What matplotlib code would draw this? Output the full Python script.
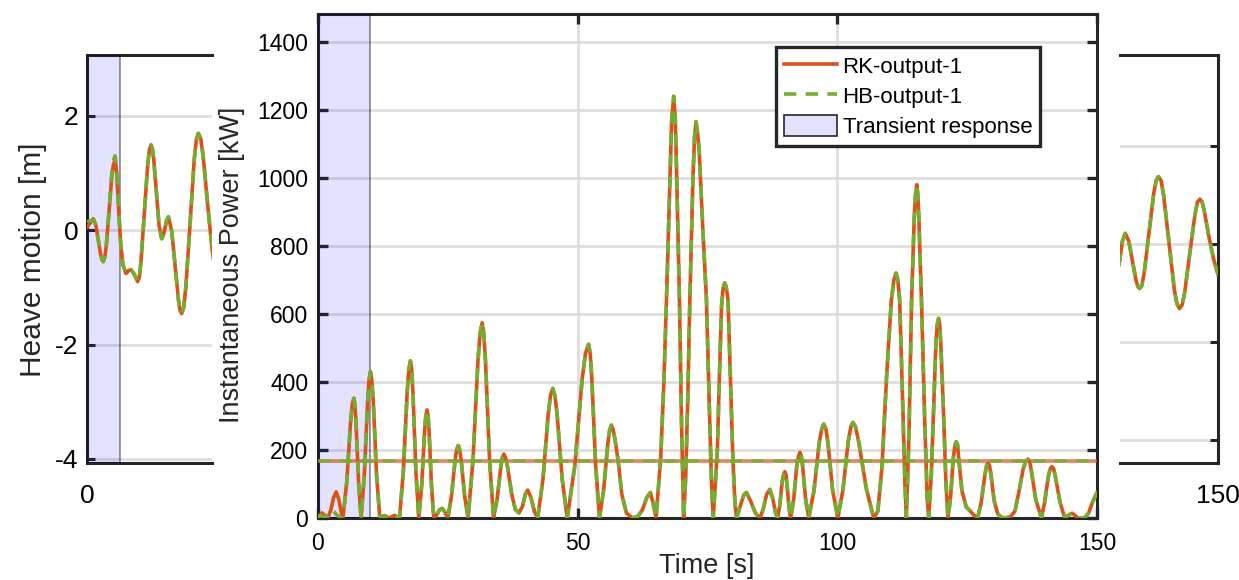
import matplotlib
matplotlib.use('Agg')
import matplotlib.pyplot as plt
from matplotlib.patches import Patch
from matplotlib.lines import Line2D

plt.rcParams['font.family'] = ['Liberation Sans', 'DejaVu Sans']
plt.rcParams['axes.unicode_minus'] = False

# ---------------- data ----------------
# Instantaneous power [kW]: (time [s], power [kW]); first seconds differ
rk_power_head = [(0.0, 4), (0.8, 15), (1.4, 6), (1.9, 0), (2.5, 25), (3.0, 60),
                 (3.5, 77), (4.0, 55), (4.5, 15), (4.8, 0)]
hb_power_head = [(0.0, 0), (0.6, 8), (1.3, 2), (2.0, 10), (2.8, 25), (3.4, 12),
                 (4.1, 3), (4.8, 0)]
# common part (both solvers coincide)
power_tail = [
    (5.54, 106), (6.27, 282), (6.6, 335), (6.9, 352), (7.1, 335), (7.32, 282), (7.81, 106), (8.3, 0),
    (8.93, 129), (9.56, 344), (9.83, 406), (10.1, 430), (10.37, 406), (10.64, 344), (11.27, 129), (11.9, 0),
    (12.4, 5), (12.9, 7), (13.5, 0), (14.2, 3), (14.7, 8), (15.2, 4), (15.7, 0),
    (16.44, 139), (17.17, 370), (17.49, 437), (17.8, 462), (18.04, 437), (18.28, 370), (18.84, 139), (19.4, 0),
    (19.96, 95), (20.52, 254), (20.76, 300), (21.0, 318), (21.2, 300), (21.39, 254), (21.85, 95), (22.3, 0),
    (22.9, 10), (23.4, 24), (23.9, 28), (24.4, 18), (25.0, 0),
    (25.7, 64), (26.4, 170), (26.7, 201), (27.0, 213), (27.29, 201), (27.57, 170), (28.24, 64), (28.9, 0),
    (29.85, 172), (30.79, 459), (31.2, 542), (31.6, 574), (31.93, 542), (32.26, 459), (33.03, 172), (33.8, 0),
    (34.5, 56), (35.2, 150), (35.5, 178), (35.8, 188), (36.1, 178), (36.5, 150), (37.3, 70), (38.0, 25), (38.7, 15),
    (39.4, 35), (39.9, 70), (40.4, 82), (41.0, 60), (41.7, 18), (42.3, 0),
    (43.32, 114), (44.33, 305), (44.77, 360), (45.2, 381), (45.62, 360), (46.04, 305), (47.02, 114), (48.0, 0),
    (49.44, 153), (50.87, 409), (51.49, 483), (52.1, 511), (52.42, 483), (52.73, 409), (53.47, 153), (54.2, 0),
    (55.0, 82), (55.8, 218), (56.15, 258), (56.5, 273), (56.85, 258), (57.2, 230), (57.8, 168), (58.5, 70),
    (59.4, 14), (60.6, 0), (61.6, 5),
    (62.5, 25), (63.3, 60), (64.0, 75), (64.5, 45), (65.1, 0),
    (66.0, 180), (66.6, 400), (67.1, 641), (67.7, 960), (68.1, 1170), (68.5, 1240), (68.8, 1170), (69.0, 1050),
    (69.6, 641), (70.0, 280), (70.4, 0),
    (70.8, 120), (71.2, 350), (71.6, 641), (72.2, 1000), (72.5, 1120), (72.8, 1165), (73.1, 1130), (73.4, 1080),
    (74.1, 850), (74.8, 641), (75.4, 300), (75.8, 90), (76.1, 0),
    (76.9, 200), (77.3, 420), (77.7, 620), (78.0, 675), (78.3, 691), (78.6, 680), (78.95, 641), (79.4, 420),
    (79.9, 168), (80.3, 40), (80.6, 0),
    (81.3, 35), (82.0, 68), (82.5, 75), (83.3, 50), (84.2, 15), (85.1, 0),
    (85.7, 25), (86.4, 70), (87.0, 84), (87.6, 55), (88.1, 15), (88.5, 0),
    (88.9, 35), (89.4, 110), (89.7, 130), (89.9, 136), (90.1, 128), (90.3, 100), (90.7, 30), (91.0, 0),
    (91.6, 55), (92.2, 155), (92.55, 183), (92.8, 193), (93.05, 183), (93.3, 155), (93.9, 55), (94.5, 0),
    (95.5, 80), (96.5, 220), (97.0, 262), (97.4, 276), (97.8, 262), (98.2, 220), (99.1, 80), (100.1, 0),
    (101.1, 85), (102.1, 225), (102.6, 268), (103.0, 281), (103.5, 268), (104.1, 225), (105.6, 85), (107.0, 0),
    (107.8, 20), (108.6, 150), (109.5, 420), (110.4, 641), (110.9, 700), (111.3, 720), (111.65, 700),
    (112.0, 641), (112.6, 330), (113.0, 110), (113.3, 0),
    (113.8, 250), (114.3, 641), (114.8, 880), (115.05, 950), (115.3, 980), (115.5, 950), (115.7, 880),
    (116.2, 641), (116.8, 300), (117.3, 60), (117.6, 0),
    (118.1, 130), (118.6, 350), (119.0, 520), (119.25, 570), (119.5, 587), (119.7, 570), (119.9, 520),
    (120.4, 330), (120.9, 110), (121.3, 0),
    (121.8, 60), (122.3, 170), (122.65, 215), (122.9, 224), (123.15, 215), (123.4, 170), (124.0, 80),
    (124.8, 33), (125.6, 20), (126.3, 8), (127.0, 0),
    (127.7, 45), (128.4, 125), (128.75, 155), (129.0, 161), (129.3, 155), (129.6, 125), (130.2, 50),
    (130.9, 12), (131.6, 2), (132.2, 0),
    (133.3, 3), (134.2, 20), (135.0, 80), (135.8, 145), (136.3, 167), (136.7, 173), (137.0, 167),
    (137.3, 145), (138.2, 55), (139.3, 0),
    (139.9, 45), (140.6, 120), (141.0, 145), (141.3, 151), (141.65, 145), (142.0, 120), (142.9, 45), (143.8, 0),
    (144.5, 8), (145.2, 14), (145.7, 8), (146.3, 0), (147.6, 0), (148.4, 15), (149.1, 45), (150.0, 75),
]
mean_power = 168          # kW, mean power level (both solvers)
transient_end_power = 10  # s

# Heave motion [m], visible left part
heave_head_t = [0.0, 0.84, 1.17, 1.50, 1.83, 2.0, 2.16, 2.35, 2.55, 2.94,
                3.32, 3.52, 3.71, 3.83, 3.95, 4.2]
heave_head_rk = [0.05, 0.20, 0.09, -0.175, -0.44, -0.52, -0.55, -0.48, -0.29, 0.35,
                 0.99, 1.15, 1.22, 1.14, 0.95, 0.35]
heave_head_hb = [0.15, 0.18, 0.08, -0.175, -0.44, -0.52, -0.55, -0.48, -0.29, 0.37,
                 1.03, 1.22, 1.30, 1.2, 1.0, 0.38]
heave_tail_t = [4.45, 4.75, 5.17, 5.5, 5.84, 6.3, 6.72, 6.95, 7.16, 7.6,
                8.05, 8.27, 8.49, 8.66, 8.84, 9.2, 9.55, 9.9, 10.12, 10.35,
                10.57, 10.8, 11.24, 11.68, 12.12, 12.34, 12.56, 12.83, 13.11, 13.67,
                14.22, 14.5, 14.77, 15.08, 15.4, 16.0, 16.6, 17.0]
heave_tail = [-0.2, -0.6, -0.76, -0.71, -0.69, -0.78, -0.90, -0.82, -0.55, 0.295,
              1.14, 1.40, 1.49, 1.43, 1.25, 0.67, 0.09, -0.15, -0.09, 0.04,
              0.17, 0.23, -0.02, -0.615, -1.21, -1.40, -1.46, -1.35, -1.0, 0.115,
              1.23, 1.58, 1.69, 1.6, 1.3, 0.45, -0.35, -0.7]
# Heave motion, visible right part
heave_right_t = [136.8, 137.0, 137.3, 137.7, 138.18, 138.65, 139.13, 139.37, 139.6, 139.9,
                 140.22, 140.85, 141.48, 141.8, 142.1, 142.45, 142.8, 143.5, 144.2, 144.55,
                 144.9, 145.25, 145.58, 146.25, 146.93, 147.27, 147.6, 147.9, 148.2, 148.8,
                 149.4, 150.0]
heave_right = [-0.45, -0.30, 0.05, 0.22, 0.055, -0.345, -0.745, -0.87, -0.91, -0.85,
               -0.575, 0.235, 1.045, 1.3, 1.38, 1.3, 0.985, 0.03, -0.925, -1.22,
               -1.32, -1.24, -0.99, -0.2, 0.59, 0.86, 0.92, 0.86, 0.66, 0.15,
               -0.3, -0.62]
transient_end_heave = 4.4

heave_yticks = [-4, -2, 0, 2]
power_yticks = [0, 200, 400, 600, 800, 1000, 1200, 1400]
power_xticks = [0, 50, 100, 150]
legend_labels = ['RK-output-1', 'HB-output-1', 'Transient response']

# ---------------- styling ----------------
W, H = 1239, 580
C_RK = '#D95319'
C_HB = '#77AC30'
SHADE = (0.0, 0.0, 1.0, 0.11)
SPINE = '#262626'
GRID = '#dedede'
LW = 2.6
DASH = (3.4, 2.6)

fig = plt.figure(figsize=(W / 100, H / 100), dpi=100)


def fr(x0, y0, x1, y1):
    return [x0 / W, 1 - y1 / H, (x1 - x0) / W, (y1 - y0) / H]


def style_spines(ax, show):
    for k, s in ax.spines.items():
        s.set_visible(k in show)
        s.set_linewidth(2.2)
        s.set_color(SPINE)


# ---- heave, left part ----
axL = fig.add_axes(fr(87, 55, 212, 463))
axL.set_xlim(0, 125 / 7.54)
axL.set_ylim(-4.07, 3.06)
axL.plot(heave_head_t + heave_tail_t, heave_head_rk + heave_tail, color=C_RK, lw=LW, zorder=3)
axL.plot(heave_head_t + heave_tail_t, heave_head_hb + heave_tail, color=C_HB, lw=LW,
         dashes=DASH, zorder=4)
axL.axvspan(0, transient_end_heave, facecolor=SHADE, edgecolor=(0, 0, 0, 0.45),
            lw=1.2, zorder=2.6)
axL.set_yticks(heave_yticks)
axL.set_xticks([0])
axL.grid(axis='y', color=GRID, lw=2)
axL.tick_params(axis='y', direction='in', length=6, width=2.2, labelsize=19,
                pad=6, color=SPINE, left=True, right=False)
axL.tick_params(axis='x', length=0, labelsize=19, pad=15)
style_spines(axL, ['left', 'top', 'bottom'])
axL.set_axisbelow(True)

# ---- heave, right part ----
axR = fig.add_axes(fr(1120, 55, 1218, 463))
axR.set_xlim(137.0, 150)
axR.set_ylim(-4.48, 3.87)
axR.plot(heave_right_t, heave_right, color=C_RK, lw=LW, zorder=3)
axR.plot(heave_right_t, heave_right, color=C_HB, lw=LW, dashes=DASH, zorder=4)
axR.set_yticks(heave_yticks)
axR.set_xticks([150])
axR.grid(axis='y', color=GRID, lw=2)
axR.tick_params(axis='y', direction='in', length=6, width=2.2, labelleft=False,
                left=False, right=True, color=SPINE)
axR.tick_params(axis='x', length=0, labelsize=19, pad=15)
style_spines(axR, ['right', 'top', 'bottom'])
axR.set_axisbelow(True)

fig.text(33 / W, 1 - 260 / H, 'Heave motion [m]', rotation=90, ha='center',
         va='center', fontsize=21.5, color='#262626')

# ---- power inset ----
ax = fig.add_axes(fr(318, 14, 1097, 518))
ax.set_facecolor('white')
rk_pts = rk_power_head + power_tail
hb_pts = hb_power_head + power_tail
ax.plot([p[0] for p in rk_pts], [p[1] for p in rk_pts], color=C_RK, lw=LW, zorder=3)
ax.plot([p[0] for p in hb_pts], [p[1] for p in hb_pts], color=C_HB, lw=LW,
        dashes=DASH, zorder=4)
ax.axhline(mean_power, color=C_RK, lw=LW, alpha=0.7, zorder=3)
ax.axhline(mean_power, color=C_HB, lw=LW, dashes=DASH, alpha=0.8, zorder=4)
ax.axvspan(0, transient_end_power, facecolor=SHADE, edgecolor=(0, 0, 0, 0.45),
           lw=1.2, zorder=2.6)
ax.set_xlim(0, 150)
ax.set_ylim(0, 1482)
ax.set_xticks(power_xticks)
ax.set_yticks(power_yticks)
ax.grid(True, color=GRID, lw=2)
ax.set_axisbelow(True)
ax.tick_params(direction='in', length=7, width=2.4, color=SPINE, labelsize=16.5,
               top=True, right=True)
ax.tick_params(axis='y', pad=7)
ax.tick_params(axis='x', pad=10)
style_spines(ax, ['left', 'right', 'top', 'bottom'])

fig.text(232 / W, 1 - 265 / H, 'Instantaneous Power [kW]', rotation=90,
         ha='center', va='center', fontsize=19.5, color='#262626')
fig.text(707 / W, 1 - 566 / H, 'Time [s]', ha='center', va='center',
         fontsize=19.5, color='#262626')

handles = [Line2D([], [], color=C_RK, lw=LW),
           Line2D([], [], color=C_HB, lw=LW, dashes=DASH),
           Patch(facecolor=(0.89, 0.89, 1.0), edgecolor='#262626', lw=1.2)]
leg = ax.legend(handles, legend_labels,
                loc='upper right', bbox_to_anchor=((1040 - 318) / 779, (518 - 47) / 504),
                borderaxespad=0, fancybox=False, framealpha=1, edgecolor='#262626',
                fontsize=16, handlelength=2.4, handletextpad=0.25,
                labelspacing=0.3, borderpad=0.35, handleheight=1.1)
leg.get_frame().set_linewidth(2.4)
leg.set_zorder(10)

fig.savefig('out.png', dpi=100, facecolor='white')
